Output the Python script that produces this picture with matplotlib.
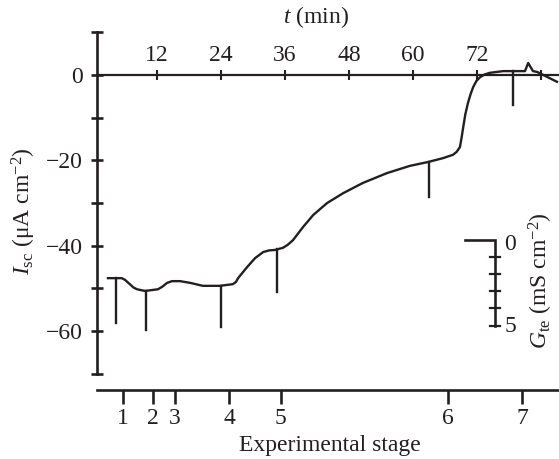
import numpy as np
import matplotlib
matplotlib.use("Agg")
import matplotlib.pyplot as plt

plt.rcParams['font.family'] = ['Liberation Serif', 'DejaVu Serif']
plt.rcParams['mathtext.fontset'] = 'custom'
plt.rcParams['mathtext.rm'] = 'Liberation Serif'
plt.rcParams['mathtext.it'] = 'Liberation Serif:italic'
FS = 17
plt.rcParams['font.size'] = FS

# ---- data ----
t_min = [2.8, 4.3, 5.4, 6.0, 6.9, 7.6, 8.25, 9.75, 12.2, 13.0, 13.9, 14.8,
         16.3, 18.2, 20.6, 23.8, 26.25, 26.8, 27.2, 28.9, 30.4, 31.9, 33.0,
         34.1, 35.6, 36.5, 37.5, 39.4, 41.3, 43.9, 46.9, 50.6, 55.1, 59.4,
         62.8, 65.6, 67.5, 68.2, 68.8, 69.1, 69.4, 69.8, 70.3, 70.8, 71.3,
         71.9, 72.6, 73.4, 74.4, 76.9, 81.0, 81.6, 82.5, 83.3, 87.0]
isc = [-47.6, -47.6, -47.6, -48.0, -49.0, -49.8, -50.2, -50.6, -50.2, -49.6,
       -48.7, -48.3, -48.3, -48.7, -49.4, -49.4, -49.0, -48.5, -47.6, -45.0,
       -42.9, -41.5, -41.1, -41.0, -40.5, -39.8, -38.7, -35.6, -32.8, -30.0,
       -27.7, -25.3, -23.0, -21.3, -20.4, -19.5, -18.7, -18.0, -16.9, -14.8,
       -12.4, -9.3, -6.6, -4.5, -2.8, -1.4, -0.5, 0.1, 0.5, 0.9, 0.9, 2.8,
       0.9, 0.7, -1.6]

spike_t = [4.3, 9.9, 24.0, 34.5, 63.0, 78.75]
spike_gte = [2.6, 2.3, 2.4, 2.5, 2.05, 2.0]   # mS cm^-2

stage_t = [5.6, 11.2, 15.4, 25.5, 35.2, 66.6, 80.5]
stage_labels = ['1', '2', '3', '4', '5', '6', '7']

t_ticks = [12, 24, 36, 48, 60, 72, 84]
t_ticklabels = ['12', '24', '36', '48', '60', '72', '']

isc_ticks = [-70, -60, -50, -40, -30, -20, -10, 0, 10]
isc_ticklabels = ['', '\u221260', '', '\u221240', '', '\u221220', '', '0', '']

gte_ticks = [0, 1, 2, 3, 4, 5]

# ---- style / layout ----
col = '#231f20'
W, H = 559, 459
isc_per_ms = 4.0       # scale: Isc units per mS cm^-2 on the scale bar
bar_t = 75.4
bar_top = -38.7
bar_left = 69.75

fig = plt.figure(figsize=(W / 100, H / 100), dpi=100)
ax_l, ax_r, ax_t, ax_b = 97, 559, 28, 390
ax = fig.add_axes([ax_l / W, 1 - ax_b / H, (ax_r - ax_l) / W, (ax_b - ax_t) / H])
ax.set_xlim(0.75, 87.38)
ax.set_ylim(-73.8, 11.0)

# trace
ax.plot(t_min, isc, color=col, lw=1.7, solid_joinstyle='round', zorder=3)
# conductance spikes
tops = np.interp(spike_t, t_min, isc)
for st, top, g in zip(spike_t, tops, spike_gte):
    ax.plot([st, st], [top, top - g * isc_per_ms], color=col, lw=1.7, zorder=3)

# spines
for s in ['right', 'bottom']:
    ax.spines[s].set_visible(False)
ax.spines['left'].set_bounds(-70, 10)
ax.spines['left'].set_linewidth(1.9)
ax.spines['left'].set_color(col)
ax.spines['top'].set_position(('data', 0))
ax.spines['top'].set_linewidth(1.6)
ax.spines['top'].set_color(col)

ax.set_yticks(isc_ticks, isc_ticklabels)
ax.tick_params(axis='y', direction='inout', length=8, width=1.9, color=col,
               pad=6, labelsize=FS, labelcolor=col)

ax.xaxis.set_ticks_position('top')
ax.set_xticks(t_ticks, t_ticklabels)
ax.tick_params(axis='x', direction='inout', length=7, width=1.5, color=col,
               pad=3, labelsize=FS, labelcolor=col)

ax.set_xlabel('$t$ (min)', color=col, fontsize=FS)
ax.xaxis.set_label_position('top')
ax.xaxis.label.set_va('center')
ax.xaxis.set_label_coords((316 - ax_l) / (ax_r - ax_l), (ax_b - 17) / (ax_b - ax_t))

ax.set_ylabel(r'$I_{\rm sc}$ ($\mathrm{\mu}$A cm$^{-2}$)', color=col, fontsize=FS)
ax.yaxis.label.set_va('center')
ax.yaxis.set_label_coords((24 - ax_l) / (ax_r - ax_l), (ax_b - 211) / (ax_b - ax_t))

# bottom stage axis
sec = ax.secondary_xaxis('bottom')
sec.set_xticks(stage_t, stage_labels)
sec.spines['bottom'].set_linewidth(1.9)
sec.spines['bottom'].set_color(col)
sec.tick_params(axis='x', direction='out', length=10, width=1.9, color=col,
                pad=3, labelsize=FS, labelcolor=col)
sec.set_xlabel('Experimental stage', color=col, fontsize=FS)
sec.xaxis.label.set_va('center')
sec.xaxis.set_label_coords((330 - ax_l) / (ax_r - ax_l), (ax_b - 446) / (ax_b - ax_t),
                           transform=ax.transAxes)

# Gte scale bar
bar_bottom = bar_top - gte_ticks[-1] * isc_per_ms
ax.plot([bar_left, bar_t, bar_t], [bar_top, bar_top, bar_bottom], color=col,
        lw=1.9, solid_joinstyle='miter', zorder=3)
tw = 0.95
for g in gte_ticks[1:]:
    yy = bar_top - g * isc_per_ms
    ax.plot([bar_t - tw, bar_t + tw], [yy, yy], color=col, lw=1.6, zorder=3)
ax.text(bar_t + 2.8, bar_top - 0.9, str(gte_ticks[0]), ha='center', va='center',
        fontsize=FS, color=col)
ax.text(bar_t + 2.8, bar_bottom - 0.3, str(gte_ticks[-1]), ha='center', va='center',
        fontsize=FS, color=col)
ax.text(bar_t + 8.6, bar_top - 9.4, r'$G_{\rm te}$ (mS cm$^{-2}$)', rotation=90,
        ha='center', va='center', fontsize=FS, color=col)

fig.savefig('out.png', dpi=100)
